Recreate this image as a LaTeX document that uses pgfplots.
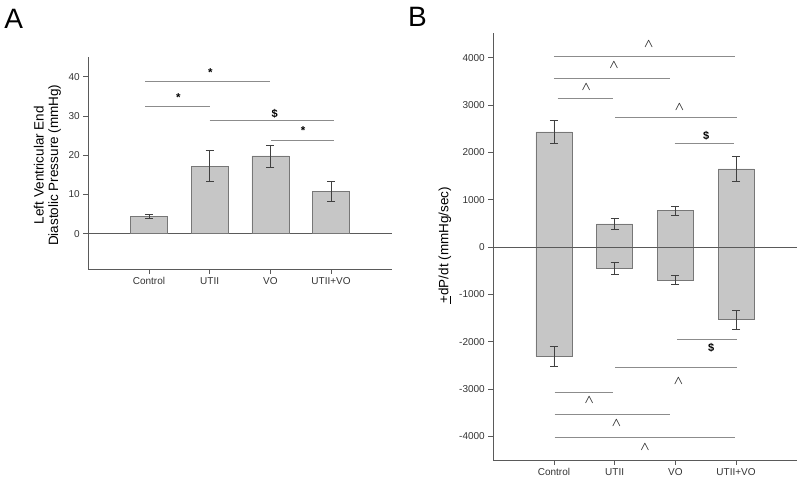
\documentclass[border=0pt]{standalone}
\usepackage{amsmath}
\usepackage{fontspec}
\setmainfont{Liberation Sans}
\usepackage{pgfplots}
\pgfplotsset{compat=1.18}
\definecolor{barfill}{HTML}{C6C6C6}
\definecolor{baredge}{HTML}{777777}
\definecolor{axisgray}{HTML}{5A5A5A}
\definecolor{siggray}{HTML}{8C8C8C}
\definecolor{ticktext}{HTML}{333333}
\newcommand{\crt}{$\boldsymbol{\wedge}$}
\tikzset{cr/.style={font=\fontsize{12}{13}\selectfont, text=black!85}}
\pgfplotsset{
  panel/.style={
    scale only axis,
    axis lines=left,
    axis line style={draw=axisgray, line width=0.8pt, -},
    tick align=outside,
    major tick length=5pt,
    tick style={draw=axisgray, line width=0.7pt},
    xmin=-1, xmax=4,
    xtick={0,1,2,3},
    xticklabels={Control,UTII,VO,UTII+VO},
    ticklabel style={font=\fontsize{10}{12}\selectfont, text=ticktext},
    /pgf/number format/1000 sep={},
    /pgf/number format/assume math mode=true,
  },
  bars/.style={ybar, bar width=#1, bar shift=0pt, fill=barfill, draw=baredge, line width=0.6pt,
    error bars/y dir=both, error bars/y explicit,
    error bars/error bar style={line width=0.7pt, draw=black!75},
    error bars/error mark options={line width=0.7pt, draw=black!75, mark size=4pt, rotate=90}},
  sig/.style={siggray, line width=0.9pt},
}
\begin{document}
\begin{tikzpicture}
\path[use as bounding box] (0,0) rectangle (800pt,481pt);
\node[inner sep=0, font=\fontsize{28}{30}\selectfont] at (13.7pt,462pt) {A};
\node[inner sep=0, font=\fontsize{28}{30}\selectfont] at (417.5pt,464pt) {B};
% Panel A
\begin{axis}[panel, at={(88.3pt,212pt)}, anchor=south west,
  width=303.4pt, height=212pt,
  ymin=-9, ymax=45, ytick={0,10,20,30,40},
  ylabel={Left Ventricular End\\Diastolic Pressure (mmHg)},
  every axis y label/.style={at={(rel axis cs:0,0.49)}, xshift=-41pt, rotate=90, anchor=center,
    align=center, font=\fontsize{13.5}{14.5}\selectfont},
  clip=false]
\addplot[axisgray, line width=0.8pt] coordinates {(-1,0) (4,0)};
\addplot[bars=37pt] coordinates {
  (0,4.4) +- (0,0.5)
  (1,17.2) +- (0,3.9)
  (2,19.8) +- (0,2.8)
  (3,10.8) +- (0,2.65)
};
\addplot[sig] coordinates {(-0.06,38.7) (2.0,38.7)};
\addplot[sig] coordinates {(-0.06,32.4) (1.0,32.4)};
\addplot[sig] coordinates {(1.0,28.8) (3.05,28.8)};
\addplot[sig] coordinates {(2.01,23.8) (3.05,23.8)};
\node[anchor=base, font=\bfseries\fontsize{11.5}{12}\selectfont] at (axis cs:1.01,40.0) {*};
\node[anchor=base, font=\bfseries\fontsize{11.5}{12}\selectfont] at (axis cs:0.485,33.6) {*};
\node[anchor=base, font=\bfseries\fontsize{11}{12}\selectfont] at (axis cs:2.07,29.6) {\$};
\node[anchor=base, font=\bfseries\fontsize{11.5}{12}\selectfont] at (axis cs:2.54,25.2) {*};
\end{axis}
% Panel B
\begin{axis}[panel, at={(493.3pt,21pt)}, anchor=south west,
  width=303.4pt, height=427pt,
  ymin=-4500, ymax=4520, ytick={-4000,-3000,-2000,-1000,0,1000,2000,3000,4000},
  scaled y ticks=false,
  ylabel={\underline{+}dP/dt (mmHg/sec)},
  every axis y label/.style={at={(rel axis cs:0,0.503)}, xshift=-48.3pt, rotate=90, anchor=center,
    font=\fontsize{13.5}{14.5}\selectfont},
  clip=false]
\addplot[bars=36pt] coordinates {
  (0,2430) +- (0,240)
  (1,486) +- (0,120)
  (2,767) +- (0,100)
  (3,1649) +- (0,265)
};
\addplot[bars=36pt] coordinates {
  (0,-2313) +- (0,205)
  (1,-452) +- (0,127)
  (2,-698) +- (0,100)
  (3,-1530) +- (0,200)
};
\addplot[axisgray, line width=0.8pt] coordinates {(-1,0) (4,0)};
% upper significance
\addplot[sig] coordinates {(0,4030) (2.98,4030)};
\addplot[sig] coordinates {(0,3565) (1.92,3565)};
\addplot[sig] coordinates {(0.06,3135) (0.97,3135)};
\addplot[sig] coordinates {(1.01,2727) (3.02,2727)};
\addplot[sig] coordinates {(1.99,2178) (2.96,2178)};
% lower significance
\addplot[sig] coordinates {(2.03,-1960) (3.02,-1960)};
\addplot[sig] coordinates {(1.01,-2552) (3.02,-2552)};
\addplot[sig] coordinates {(0.01,-3073) (0.97,-3073)};
\addplot[sig] coordinates {(0.01,-3530) (1.92,-3530)};
\addplot[sig] coordinates {(0.01,-4031) (2.98,-4031)};
\node[cr] at (axis cs:1.56,4277) {\crt};
\node[cr] at (axis cs:0.99,3840) {\crt};
\node[cr] at (axis cs:0.53,3383) {\crt};
\node[cr] at (axis cs:2.07,2960) {\crt};
\node[anchor=base, font=\bfseries\fontsize{11}{12}\selectfont] at (axis cs:2.51,2260) {\$};
\node[anchor=base, font=\bfseries\fontsize{11}{12}\selectfont] at (axis cs:2.59,-2201) {\$};
\node[cr] at (axis cs:2.05,-2840) {\crt};
\node[cr] at (axis cs:0.58,-3228) {\crt};
\node[cr] at (axis cs:1.03,-3714) {\crt};
\node[cr] at (axis cs:1.50,-4222) {\crt};
\end{axis}
\end{tikzpicture}
\end{document}
